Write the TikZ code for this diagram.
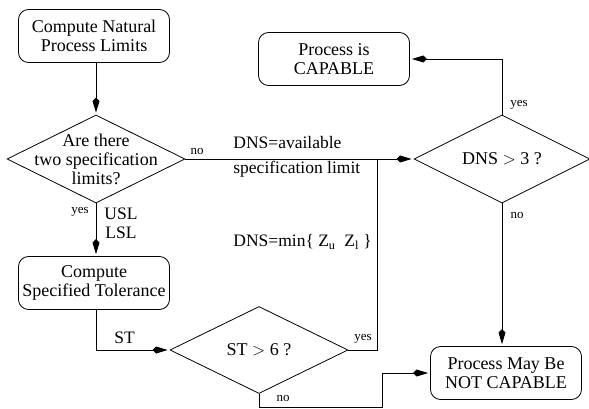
\documentclass[tikz,border=0pt]{standalone}
\usepackage{fontspec}
\setmainfont{Liberation Serif}
\usetikzlibrary{shapes,positioning,arrows.meta,calc}

\begin{document}
\begin{tikzpicture}[x=1pt,y=-1pt,line width=0.8pt,
    box/.style={draw,rectangle,rounded corners=10pt,minimum width=151pt,minimum height=53pt,inner sep=1pt,align=center,font=\fontsize{18}{19}\selectfont},
    decision/.style={draw,diamond,inner sep=0pt,minimum width=178pt,minimum height=88pt},
    dtext/.style={align=center,font=\fontsize{18}{19}\selectfont},
    lbl/.style={inner sep=1pt,font=\fontsize{13}{14}\selectfont},
    note/.style={inner sep=0pt,anchor=west,font=\fontsize{17.5}{19}\selectfont},
    arr/.style={-{Kite[length=15pt,width=7pt,inset=3.5pt]},shorten >=2pt}]
        \useasboundingbox (0,0) rectangle (589,409);

        % Boxes
        \node[box] (natural) at (94,36) {Compute Natural\\Process Limits};
        \node[box] (tolerance) at (94,283) {Compute\\Specified Tolerance};
        \node[box] (capable) at (334,59) {Process is\\CAPABLE};
        \node[box] (notcapable) at (506,373) {Process May Be\\NOT CAPABLE};

        % Decisions
        \node[decision] (twolimits) at (96,159) {};
        \node[dtext] at (twolimits) {Are there\\two specification\\limits?};
        \node[decision,minimum width=176pt] (dns) at (502,159) {};
        \node[dtext] at (dns) {DNS $>$ 3 ?};
        \node[decision,minimum height=87pt] (st) at (259,350) {};
        \node[dtext] at (st) {ST $>$ 6 ?};

        % Junctions
        \coordinate (join) at (377,159);
        \coordinate (detour) at (382,407);

        % Arrows
        \draw[arr] (natural.south -| twolimits.north) -- (twolimits.north);
        \draw[arr] (twolimits.east) -- (dns.west);
        \draw[arr] (twolimits.south) -- (twolimits.south |- tolerance.north);
        \draw[arr] (tolerance.south -| twolimits.south) |- (st.west);
        \draw (st.east) -| (join);
        \draw[arr] (dns.north) |- (capable.east);
        \draw[arr] (dns.south) -- (dns.south |- notcapable.north);
        \draw[arr] (st.south) |- (detour) |- (notcapable.west);

        % Labels
        \node[lbl] (no1) at (197,152) {no};
        \node[lbl] (yes1) at (80,212) {yes};
        \node[lbl] (yes2) at (519,105) {yes};
        \node[lbl] (no2) at (517,215) {no};
        \node[lbl] (yes3) at (363,339) {yes};
        \node[lbl] (no3) at (283,398) {no};
        \node[note,align=center] (limits) at (104,223) {USL\\LSL};
        \node[note] (stval) at (114,338) {ST};
        \node[note] (dnsavail) at (233,143) {DNS=available};
        \node[note] (speclimit) at (233,169) {specification limit};
        \node[note] (dnsmin) at (233,242) {DNS=min\{ Z\textsubscript{u}\ \ Z\textsubscript{l} \}};
    \end{tikzpicture}
\end{document}
